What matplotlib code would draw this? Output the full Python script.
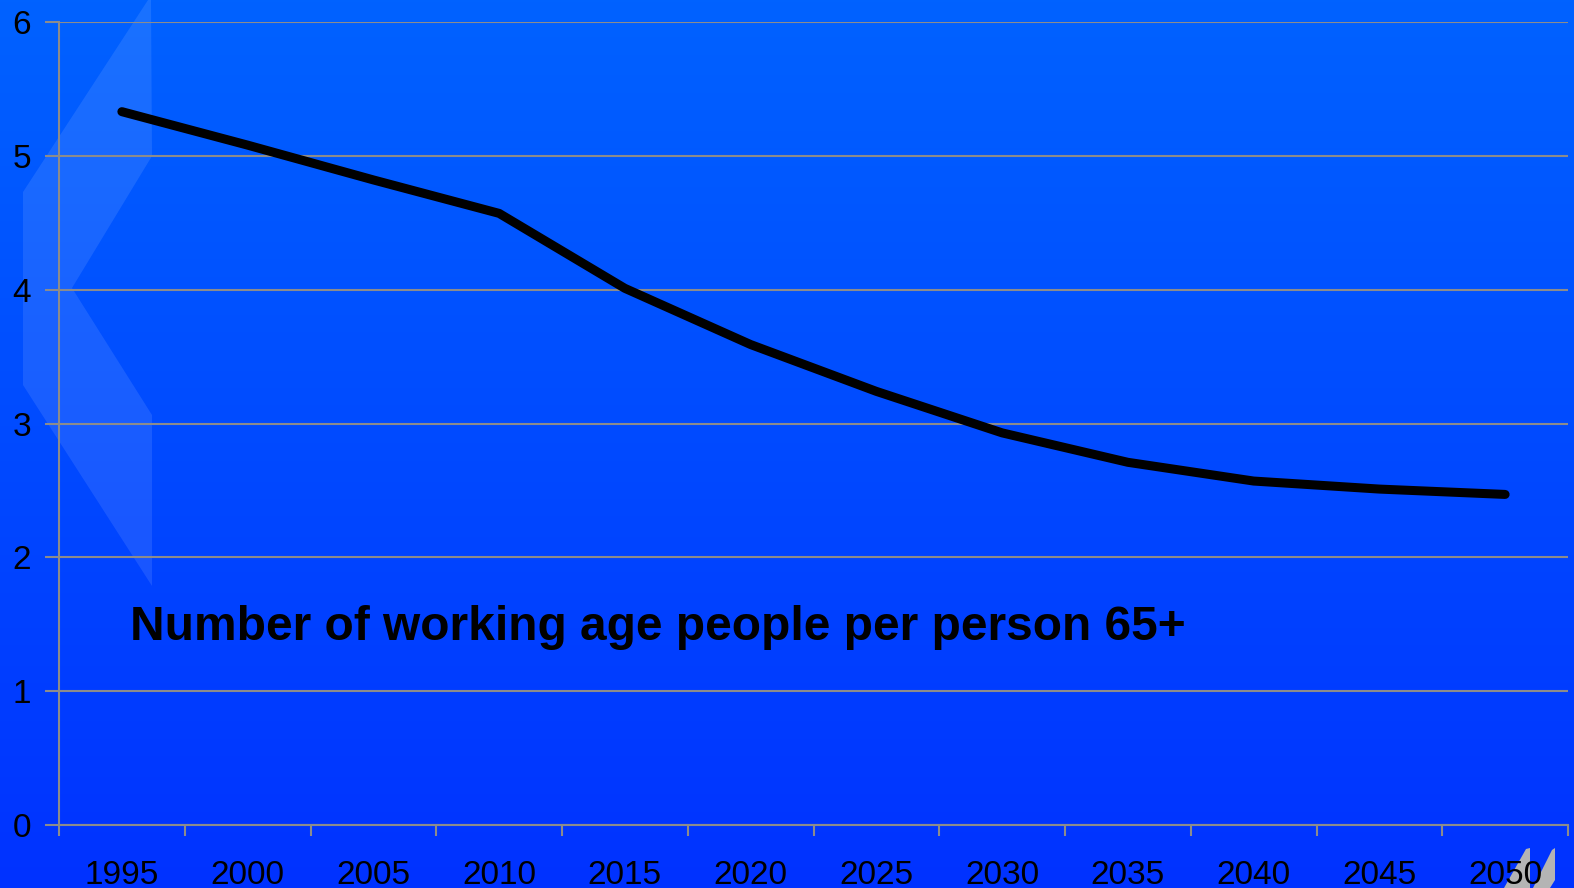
import numpy as np
import matplotlib
matplotlib.use("Agg")
import matplotlib.pyplot as plt
from matplotlib.patches import Polygon, Arc
from matplotlib.colors import LinearSegmentedColormap

years = ["1995", "2000", "2005", "2010", "2015", "2020", "2025", "2030", "2035", "2040", "2045", "2050"]
ratio = [5.33, 5.08, 4.82, 4.57, 4.01, 3.59, 3.24, 2.93, 2.71, 2.57, 2.51, 2.47]
yticks = [0, 1, 2, 3, 4, 5, 6]
title = "Number of working age people per person 65+"

plt.rcParams["font.family"] = ["Liberation Sans", "DejaVu Sans"]

W, H = 1574, 888
fig = plt.figure(figsize=(W / 100, H / 100), dpi=100)

# blue gradient background
bg = fig.add_axes([0, 0, 1, 1], zorder=-10)
cmap = LinearSegmentedColormap.from_list("bg", ["#0062FF", "#0032FF"])
bg.imshow(np.linspace(0, 1, 256).reshape(-1, 1), aspect="auto", cmap=cmap,
          extent=[0, W, H, 0])
bg.set_xlim(0, W)
bg.set_ylim(H, 0)
bg.axis("off")

# faint decorative chevron on the left
chevron = [(148, 0), (23, 192), (23, 385), (152, 586), (152, 415), (72, 288), (152, 156), (151, 0)]
bg.add_patch(Polygon(chevron, closed=True, facecolor="white", alpha=0.1, edgecolor="none"))

# small logo fragment in the bottom-right corner
bg.add_patch(Polygon([(1504, 888), (1526, 849), (1530, 848), (1530, 888)],
                     closed=True, facecolor="#b4b4b4", edgecolor="none", zorder=5))
bg.add_patch(Polygon([(1533, 888), (1552, 850), (1555, 848), (1555, 880), (1550, 888)],
                     closed=True, facecolor="#b4b4b4", edgecolor="none", zorder=5))
bg.add_patch(Arc((1590, 895), 60, 70, theta1=110, theta2=185, color="#7fc8ff", lw=1.2, zorder=5))

ax = fig.add_axes([59 / W, 1 - 825 / H, (1568 - 59) / W, (825 - 22) / H])
ax.patch.set_alpha(0)

x = np.arange(len(years))
ax.plot(x, ratio, color="black", lw=6.5, solid_capstyle="round", solid_joinstyle="round", zorder=3)

ax.set_xlim(-0.5, len(years) - 0.5)
ax.set_ylim(0, 6)
ax.set_yticks(yticks)
ax.set_xticks(np.arange(-0.5, len(years)), labels=[])
ax.set_xticks(x, labels=years, minor=True)
ax.tick_params(axis="x", which="major", length=8, width=1.5, color="#8c8c8c", direction="out")
ax.tick_params(axis="x", which="minor", length=0, pad=25, labelsize=24)
ax.tick_params(axis="y", length=10, width=1.5, color="#8c8c8c", labelsize=24, pad=10)
ax.grid(axis="y", color="#8c8c8c", lw=1.5)
ax.set_axisbelow(True)
for s in ["top", "right"]:
    ax.spines[s].set_visible(False)
for s in ["left", "bottom"]:
    ax.spines[s].set_color("#8c8c8c")
    ax.spines[s].set_linewidth(1.5)

ax.text(130 / W, 1 - 627 / H, title, transform=fig.transFigure, fontsize=34.5,
        fontweight="bold", va="center", ha="left", color="black")

fig.savefig("out.png", dpi=100)
